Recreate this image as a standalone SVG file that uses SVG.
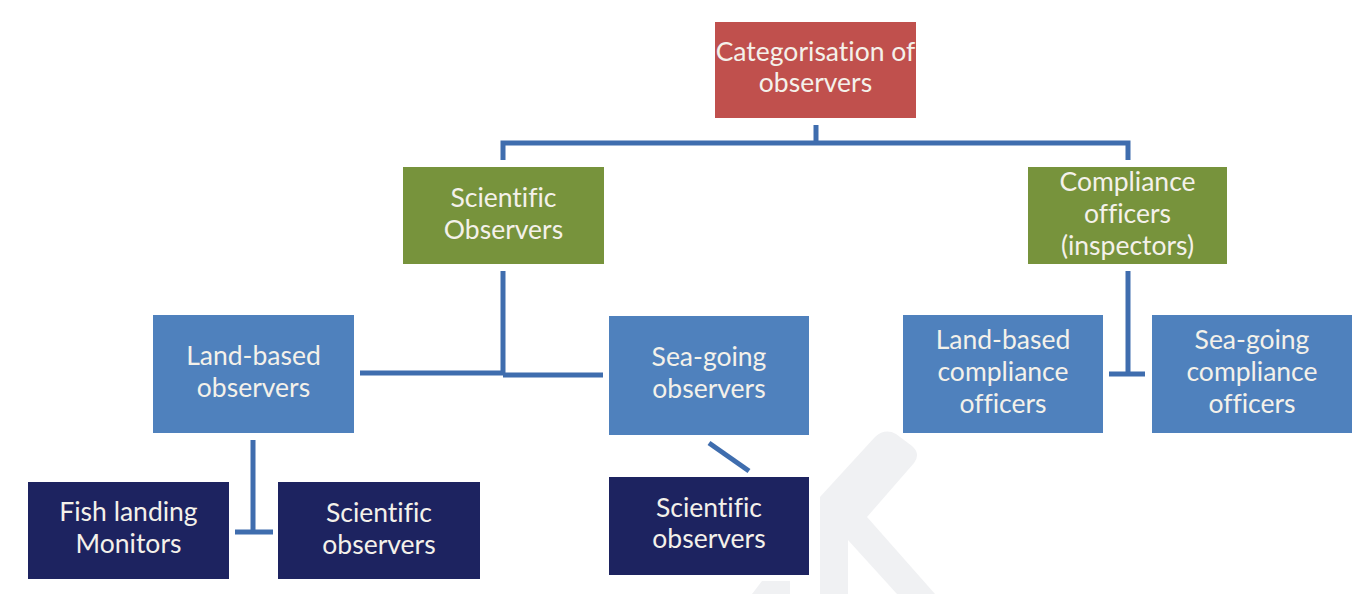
<svg xmlns="http://www.w3.org/2000/svg" width="1354" height="594" viewBox="0 0 1354 594">
<style>
.t{font-family:Lato,"Liberation Sans",sans-serif;font-size:26.5px;fill:#F4F1EA;text-anchor:middle;font-variant-ligatures:none}
.red{fill:#C0504D}
.green{fill:#77933C}
.blue{fill:#4F81BD}
.navy{fill:#1D2360}
.c{stroke:#3F6DAE;stroke-width:5;fill:none}
</style>
<rect width="1354" height="594" fill="#FFFFFF"/>
<g id="watermark" fill="#F0F1F3">
<path d="M820,497 L875,437 Q885,428 896,434 L912,446 Q921,454 914,463 L867,517 L935,594 L897,594 L848,540 L848,594 L820,594 Z"/>
<path d="M752,594 L762,581 L790,581 L790,594 Z"/>
</g>
<g id="connectors" class="c">
<path d="M816,125 V143"/>
<path d="M503,160 V143 H1128 V160"/>
<path d="M503,271 V375"/>
<path d="M360,373 H503"/>
<path d="M503,375 H603"/>
<path d="M1128,271 V374"/>
<path d="M1109,374 H1145"/>
<path d="M253,440 V532"/>
<path d="M235,532 H273"/>
<path d="M709,443 L749,471"/>
</g>
<g id="n-root"><rect class="red" x="715" y="22" width="201" height="96"/>
<text class="t" x="815.5" y="61">Categorisation of</text><text class="t" x="815.5" y="92">observers</text></g>
<g id="n-scientific"><rect class="green" x="403" y="167" width="201" height="97"/>
<text class="t" x="503.5" y="207">Scientific</text><text class="t" x="503.5" y="239">Observers</text></g>
<g id="n-compliance"><rect class="green" x="1028" y="167" width="199" height="97"/>
<text class="t" x="1127.5" y="191">Compliance</text><text class="t" x="1127.5" y="223">officers</text><text class="t" x="1127.5" y="255">(inspectors)</text></g>
<g id="n-landbased"><rect class="blue" x="153" y="315" width="201" height="118"/>
<text class="t" x="253.5" y="365">Land-based</text><text class="t" x="253.5" y="397">observers</text></g>
<g id="n-seagoing"><rect class="blue" x="609" y="316" width="200" height="119"/>
<text class="t" x="709" y="366">Sea-going</text><text class="t" x="709" y="398">observers</text></g>
<g id="n-landcomp"><rect class="blue" x="903" y="315" width="200" height="118"/>
<text class="t" x="1003" y="349">Land-based</text><text class="t" x="1003" y="381">compliance</text><text class="t" x="1003" y="413">officers</text></g>
<g id="n-seacomp"><rect class="blue" x="1152" y="315" width="200" height="118"/>
<text class="t" x="1252" y="349">Sea-going</text><text class="t" x="1252" y="381">compliance</text><text class="t" x="1252" y="413">officers</text></g>
<g id="n-fish"><rect class="navy" x="28" y="482" width="201" height="97"/>
<text class="t" x="128.5" y="521">Fish landing</text><text class="t" x="128.5" y="553">Monitors</text></g>
<g id="n-sciobs1"><rect class="navy" x="278" y="482" width="202" height="97"/>
<text class="t" x="379" y="522">Scientific</text><text class="t" x="379" y="554">observers</text></g>
<g id="n-sciobs2"><rect class="navy" x="609" y="477" width="200" height="98"/>
<text class="t" x="709" y="517">Scientific</text><text class="t" x="709" y="548">observers</text></g>
</svg>
